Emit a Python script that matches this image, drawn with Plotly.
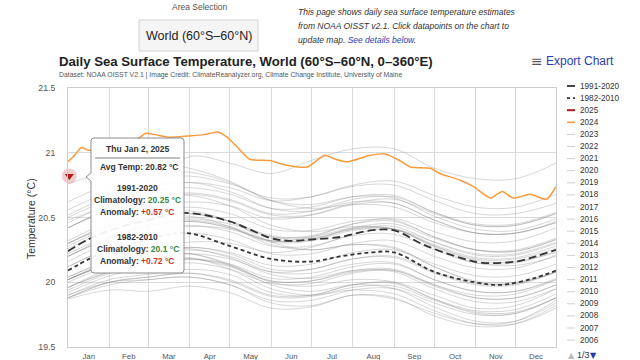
import plotly.graph_objects as go

# ---------------- data ----------------
# x axis = day of year, drawn on a leap-year calendar (2024)
month_dates = ["2024-01-01", "2024-02-01", "2024-03-01", "2024-04-01", "2024-05-01",
               "2024-06-01", "2024-07-01", "2024-08-01", "2024-09-01", "2024-10-01",
               "2024-11-01", "2024-12-01", "2024-12-31"]

sst_1982 = [19.90, 20.02, 20.06, 20.10, 20.06, 19.92, 19.90, 19.98, 20.00, 19.90, 19.80, 19.82, 19.95]
sst_1983 = [20.02, 20.14, 20.20, 20.22, 20.14, 20.00, 19.97, 20.02, 20.00, 19.87, 19.76, 19.76, 19.88]
sst_1984 = [19.90, 20.00, 20.02, 20.04, 19.98, 19.84, 19.82, 19.90, 19.88, 19.74, 19.66, 19.68, 19.82]
sst_1985 = [19.87, 19.94, 19.93, 19.97, 19.92, 19.80, 19.81, 19.90, 19.87, 19.76, 19.68, 19.70, 19.86]
sst_1986 = [19.88, 20.00, 20.04, 20.07, 20.02, 19.90, 19.90, 19.98, 19.99, 19.87, 19.78, 19.79, 19.91]
sst_1987 = [19.96, 20.10, 20.17, 20.22, 20.18, 20.08, 20.10, 20.18, 20.20, 20.08, 19.99, 19.99, 20.08]
sst_1988 = [20.04, 20.16, 20.21, 20.22, 20.13, 19.98, 19.93, 19.98, 19.95, 19.81, 19.70, 19.70, 19.84]
sst_1989 = [19.88, 19.98, 20.02, 20.04, 19.98, 19.86, 19.86, 19.94, 19.95, 19.84, 19.75, 19.76, 19.88]
sst_1990 = [19.96, 20.08, 20.14, 20.18, 20.13, 20.01, 20.01, 20.09, 20.10, 19.98, 19.88, 19.88, 19.98]
sst_1991 = [19.96, 20.08, 20.14, 20.18, 20.14, 20.03, 20.04, 20.12, 20.14, 20.02, 19.93, 19.93, 20.02]
sst_1992 = [20.02, 20.14, 20.18, 20.19, 20.10, 19.95, 19.90, 19.94, 19.91, 19.78, 19.68, 19.68, 19.80]
sst_1993 = [19.88, 20.00, 20.04, 20.07, 20.01, 19.89, 19.89, 19.96, 19.97, 19.86, 19.77, 19.77, 19.88]
sst_1994 = [19.92, 20.05, 20.11, 20.15, 20.10, 19.99, 19.99, 20.07, 20.09, 19.98, 19.90, 19.91, 20.02]
sst_1995 = [20.04, 20.17, 20.24, 20.26, 20.19, 20.06, 20.03, 20.09, 20.08, 19.95, 19.85, 19.85, 19.95]
sst_1996 = [19.94, 20.07, 20.14, 20.18, 20.12, 20.01, 20.01, 20.08, 20.09, 19.97, 19.88, 19.88, 19.98]
sst_1997 = [20.02, 20.16, 20.25, 20.31, 20.30, 20.23, 20.27, 20.37, 20.41, 20.31, 20.22, 20.22, 20.31]
sst_1998 = [20.30, 20.44, 20.52, 20.55, 20.47, 20.31, 20.25, 20.29, 20.26, 20.12, 20.00, 19.99, 20.08]
sst_1999 = [20.02, 20.15, 20.22, 20.25, 20.20, 20.08, 20.07, 20.14, 20.15, 20.02, 19.93, 19.93, 20.03]
sst_2000 = [20.02, 20.15, 20.23, 20.27, 20.22, 20.10, 20.10, 20.18, 20.19, 20.07, 19.98, 19.98, 20.08]
sst_2001 = [20.12, 20.26, 20.34, 20.38, 20.33, 20.22, 20.22, 20.30, 20.32, 20.20, 20.11, 20.11, 20.21]
sst_2002 = [20.20, 20.35, 20.44, 20.48, 20.43, 20.32, 20.33, 20.41, 20.43, 20.31, 20.21, 20.21, 20.30]
sst_2003 = [20.28, 20.42, 20.50, 20.53, 20.47, 20.35, 20.34, 20.41, 20.41, 20.28, 20.18, 20.18, 20.26]
sst_2004 = [20.20, 20.34, 20.43, 20.47, 20.42, 20.31, 20.32, 20.40, 20.41, 20.29, 20.19, 20.19, 20.28]
sst_2005 = [20.26, 20.40, 20.49, 20.53, 20.47, 20.36, 20.35, 20.42, 20.41, 20.28, 20.17, 20.16, 20.23]
sst_2006 = [20.20, 20.34, 20.43, 20.47, 20.42, 20.32, 20.33, 20.42, 20.45, 20.34, 20.25, 20.25, 20.34]
sst_2007 = [20.30, 20.43, 20.50, 20.51, 20.43, 20.29, 20.25, 20.29, 20.27, 20.12, 20.01, 20.00, 20.08]
sst_2008 = [20.00, 20.13, 20.22, 20.27, 20.23, 20.13, 20.14, 20.23, 20.25, 20.14, 20.05, 20.05, 20.14]
sst_2009 = [20.12, 20.27, 20.37, 20.43, 20.41, 20.32, 20.35, 20.45, 20.49, 20.39, 20.31, 20.32, 20.42]
sst_2010 = [20.42, 20.57, 20.65, 20.67, 20.59, 20.44, 20.39, 20.43, 20.41, 20.27, 20.15, 20.13, 20.20]
sst_2011 = [20.16, 20.31, 20.40, 20.44, 20.39, 20.28, 20.28, 20.36, 20.37, 20.25, 20.15, 20.15, 20.24]
sst_2012 = [20.22, 20.36, 20.45, 20.49, 20.45, 20.35, 20.36, 20.45, 20.47, 20.35, 20.25, 20.24, 20.33]
sst_2013 = [20.30, 20.45, 20.54, 20.58, 20.53, 20.41, 20.40, 20.47, 20.48, 20.35, 20.25, 20.24, 20.33]
sst_2014 = [20.32, 20.47, 20.57, 20.62, 20.59, 20.49, 20.52, 20.61, 20.64, 20.53, 20.44, 20.44, 20.53]
sst_2015 = [20.50, 20.64, 20.73, 20.77, 20.73, 20.63, 20.66, 20.75, 20.78, 20.67, 20.58, 20.58, 20.68]
sst_2016 = [20.76, 20.86, 20.92, 20.88, 20.78, 20.63, 20.57, 20.60, 20.58, 20.46, 20.38, 20.38, 20.46]
sst_2017 = [20.52, 20.66, 20.74, 20.77, 20.70, 20.57, 20.55, 20.62, 20.61, 20.48, 20.38, 20.38, 20.46]
sst_2018 = [20.42, 20.56, 20.65, 20.69, 20.64, 20.53, 20.55, 20.64, 20.66, 20.54, 20.45, 20.45, 20.54]
sst_2019 = [20.56, 20.70, 20.79, 20.82, 20.76, 20.65, 20.66, 20.74, 20.75, 20.63, 20.53, 20.53, 20.61]
sst_2020 = [20.62, 20.76, 20.84, 20.85, 20.77, 20.63, 20.60, 20.66, 20.65, 20.51, 20.41, 20.40, 20.49]
sst_2021 = [20.42, 20.56, 20.65, 20.68, 20.63, 20.52, 20.52, 20.60, 20.61, 20.48, 20.38, 20.38, 20.47]
sst_2022 = [20.46, 20.60, 20.69, 20.73, 20.68, 20.57, 20.58, 20.66, 20.67, 20.54, 20.44, 20.44, 20.53]
sst_2023 = [20.48, 20.60, 20.74, 20.97, 20.92, 20.84, 20.94, 21.03, 21.03, 20.88, 20.80, 20.80, 20.92]

gray_years = [1982, 1983, 1984, 1985, 1986, 1987, 1988, 1989, 1990, 1991, 1992, 1993,
              1994, 1995, 1996, 1997, 1998, 1999, 2000, 2001, 2002, 2003, 2004, 2005,
              2006, 2007, 2008, 2009, 2010, 2011, 2012, 2013, 2014, 2015, 2016, 2017,
              2018, 2019, 2020, 2021, 2022, 2023]
gray_values = [sst_1982, sst_1983, sst_1984, sst_1985, sst_1986, sst_1987, sst_1988, sst_1989,
               sst_1990, sst_1991, sst_1992, sst_1993, sst_1994, sst_1995, sst_1996, sst_1997,
               sst_1998, sst_1999, sst_2000, sst_2001, sst_2002, sst_2003, sst_2004, sst_2005,
               sst_2006, sst_2007, sst_2008, sst_2009, sst_2010, sst_2011, sst_2012, sst_2013,
               sst_2014, sst_2015, sst_2016, sst_2017, sst_2018, sst_2019, sst_2020, sst_2021,
               sst_2022, sst_2023]

dates_2024 = ["2024-01-01", "2024-01-06", "2024-01-11", "2024-01-16", "2024-01-25", "2024-02-09",
              "2024-02-24", "2024-02-28", "2024-03-06", "2024-03-17", "2024-03-31", "2024-04-12",
              "2024-04-22", "2024-04-29", "2024-05-06", "2024-05-16", "2024-05-31", "2024-06-10",
              "2024-06-28", "2024-07-11", "2024-07-19", "2024-07-28", "2024-08-14", "2024-08-25",
              "2024-09-05", "2024-09-13", "2024-09-28", "2024-10-05", "2024-10-20", "2024-10-30",
              "2024-11-12", "2024-11-17", "2024-11-21", "2024-11-29", "2024-12-12", "2024-12-24",
              "2024-12-31"]
sst_2024 = [20.93, 20.98, 21.04, 21.02, 21.02, 21.06,
            21.12, 21.15, 21.14, 21.12, 21.13, 21.14,
            21.16, 21.12, 21.05, 20.95, 20.94, 20.91,
            20.89, 20.98, 20.95, 20.93, 20.98, 20.99,
            20.94, 20.89, 20.88, 20.84, 20.79, 20.74,
            20.65, 20.68, 20.70, 20.65, 20.68, 20.64,
            20.74]

dates_2025 = ["2024-01-02"]   # Jan 2, 2025 on the day-of-year axis
sst_2025 = [20.82]

clim_dates_9120 = ["2024-01-01", "2024-01-16", "2024-02-01", "2024-03-01", "2024-03-29", "2024-05-01",
                   "2024-06-01", "2024-06-15", "2024-07-01", "2024-07-23", "2024-08-14", "2024-09-01",
                   "2024-09-23", "2024-10-20", "2024-11-06", "2024-12-01", "2024-12-16", "2024-12-31"]
clim_9120 = [20.24, 20.33, 20.40, 20.48, 20.535, 20.47,
             20.34, 20.32, 20.33, 20.35, 20.40, 20.40,
             20.29, 20.19, 20.15, 20.16, 20.20, 20.25]

clim_dates_8210 = ["2024-01-01", "2024-01-17", "2024-02-01", "2024-03-01", "2024-03-29", "2024-05-01",
                   "2024-06-01", "2024-07-01", "2024-07-23", "2024-08-14", "2024-09-01", "2024-10-01",
                   "2024-10-31", "2024-11-20", "2024-12-14", "2024-12-31"]
clim_8210 = [20.09, 20.18, 20.24, 20.33, 20.38, 20.28,
             20.18, 20.16, 20.20, 20.23, 20.23, 20.08,
             20.00, 19.98, 20.03, 20.09]

y_tickvals = [19.5, 20, 20.5, 21, 21.5]
y_ticktext = ["19.5", "20", "20.5", "21", "21.5"]

legend_labels = ["1991-2020", "1982-2010", "2025", "2024", "2023", "2022", "2021", "2020", "2019",
                 "2018", "2017", "2016", "2015", "2014", "2013", "2012", "2011", "2010", "2009",
                 "2008", "2007", "2006"]

# ---------------- layout helpers ----------------
W, H = 640, 360
ML, MR, MT, MB = 68, 84, 88, 13
PW, PH = W - ML - MR, H - MT - MB
FONT = "Liberation Sans, Arial, Helvetica, sans-serif"

def px(x):
    return (x - ML) / PW

def py(y):
    return (H - MB - y) / PH

ORANGE = "#f89b3c"
DARK = "#333333"
RED25 = "#b01c1c"
GRAY = "rgba(135,135,135,0.33)"

fig = go.Figure()

for yr, vals in zip(gray_years, gray_values):
    fig.add_trace(go.Scatter(x=month_dates, y=vals, mode="lines", name=str(yr),
                             line=dict(color=GRAY, width=1, shape="spline", smoothing=1.0),
                             showlegend=False, hoverinfo="skip"))

fig.add_trace(go.Scatter(x=clim_dates_8210, y=clim_8210, mode="lines", name="1982-2010",
                         line=dict(color=DARK, width=1.8, dash="4px,3px", shape="spline"),
                         showlegend=False))
fig.add_trace(go.Scatter(x=clim_dates_9120, y=clim_9120, mode="lines", name="1991-2020",
                         line=dict(color=DARK, width=1.8, dash="8px,4px", shape="spline"),
                         showlegend=False))
fig.add_trace(go.Scatter(x=dates_2024, y=sst_2024, mode="lines", name="2024",
                         line=dict(color=ORANGE, width=1.5, shape="spline", smoothing=0.6),
                         showlegend=False))
# hover halo + marker for 2025
fig.add_trace(go.Scatter(x=dates_2025, y=sst_2025, mode="markers", showlegend=False, cliponaxis=False,
                         marker=dict(size=15, color="rgba(200,80,80,0.28)"), hoverinfo="skip"))
fig.add_trace(go.Scatter(x=dates_2025, y=sst_2025, mode="markers", name="2025", cliponaxis=False,
                         marker=dict(size=8, symbol="triangle-down", color=RED25),
                         showlegend=False))

ann = []
shapes = []

def text(x, y, s, size, color="#333", xanchor="left", yanchor="middle", family=FONT, **kw):
    ann.append(dict(x=px(x), y=py(y), xref="paper", yref="paper", text=s, showarrow=False,
                    xanchor=xanchor, yanchor=yanchor,
                    font=dict(family=family, size=size, color=color), **kw))

# header
text(200, 7, "Area Selection", 8.5, "#555", xanchor="center")
shapes.append(dict(type="rect", xref="paper", yref="paper", x0=px(139), x1=px(258), y0=py(51), y1=py(20),
                   fillcolor="#f5f5f5", line=dict(color="#d2d2d2", width=1), layer="above"))
text(198.5, 36, "World (60°S–60°N)", 12.5, "#222", xanchor="center")
text(296, 12, "<i>This page shows daily sea surface temperature estimates</i>", 8.5, "#333")
text(296, 26, "<i>from NOAA OISST v2.1. Click datapoints on the chart to</i>", 8.5, "#333")
text(296, 40, "<i>update map. <span style='color:#2a3db0'>See details below</span>.</i>", 8.5, "#333")

text(57, 61, "<b>Daily Sea Surface Temperature, World (60°S–60°N, 0–360°E)</b>", 13.2, "#222")
text(57, 75, "Dataset: NOAA OISST V2.1 | Image Credit: ClimateReanalyzer.org, Climate Change Institute, University of Maine",
     6.85, "#555")
text(529, 61, "≡", 14, "#555", family="DejaVu Sans")
text(544, 61, "Export Chart", 12, "#2a3db0")

# y-axis title
ann.append(dict(x=px(31), y=py(219), xref="paper", yref="paper", text="Temperature (°C)",
                showarrow=False, textangle=-90, xanchor="center", yanchor="middle",
                font=dict(family=FONT, size=10.5, color="#333")))

# custom legend
for i, lab in enumerate(legend_labels):
    yy = 86 + i * 12.1
    if lab == "1991-2020":
        ln = dict(color=DARK, width=1.8)
    elif lab == "1982-2010":
        ln = dict(color=DARK, width=1.8, dash="3px,3px")
    elif lab == "2025":
        ln = dict(color=RED25, width=2)
    elif lab == "2024":
        ln = dict(color=ORANGE, width=1.5)
    else:
        ln = dict(color="#d0d0d0", width=1)
    shapes.append(dict(type="line", xref="paper", yref="paper", x0=px(567), x1=px(575),
                       y0=py(yy), y1=py(yy), line=ln))
    text(578, yy, lab, 8.2, "#333")
text(566, 355, "<span style='color:#bbbbbb'>▲</span>", 8, "#bbb", family="DejaVu Sans")
text(575, 355, "1/3", 9, "#333")
text(588, 355, "<span style='color:#1c3aa8'>▼</span>", 8, "#1c3aa8", family="DejaVu Sans")

# tooltip
bx0, bx1, by0, by1, r = 91, 184, 138, 273, 3
path = (f"M {px(bx0 + r)} {py(by0)} L {px(bx1 - r)} {py(by0)} "
        f"Q {px(bx1)} {py(by0)} {px(bx1)} {py(by0 + r)} L {px(bx1)} {py(by1 - r)} "
        f"Q {px(bx1)} {py(by1)} {px(bx1 - r)} {py(by1)} L {px(bx0 + r)} {py(by1)} "
        f"Q {px(bx0)} {py(by1)} {px(bx0)} {py(by1 - r)} L {px(bx0)} {py(181)} "
        f"L {px(86)} {py(177)} L {px(bx0)} {py(173)} L {px(bx0)} {py(by0 + r)} "
        f"Q {px(bx0)} {py(by0)} {px(bx0 + r)} {py(by0)} Z")
shapes.append(dict(type="path", xref="paper", yref="paper", path=path,
                   fillcolor="rgba(255,255,255,0.93)", line=dict(color="#8c8c8c", width=1), layer="above"))
shapes.append(dict(type="line", xref="paper", yref="paper", x0=px(95), x1=px(180), y0=py(158), y1=py(158),
                   line=dict(color="#aaaaaa", width=1.5), layer="above"))
GREEN = "#3b8a3b"
RED = "#c0392b"
cx = 137.5
text(cx, 149, "<b>Thu Jan 2, 2025</b>", 8.5, "#333", xanchor="center")
text(cx + 2, 167, "<b>Avg Temp: 20.82 °C</b>", 8.5, "#333", xanchor="center")
text(cx, 188, "<b>1991-2020</b>", 8.5, "#333", xanchor="center")
text(cx, 200, f"<b>Climatology: <span style='color:{GREEN}'>20.25 °C</span></b>", 8.5, "#333", xanchor="center")
text(cx, 212, f"<b>Anomaly: <span style='color:{RED}'>+0.57 °C</span></b>", 8.5, "#333", xanchor="center")
text(cx, 237, "<b>1982-2010</b>", 8.5, "#333", xanchor="center")
text(cx, 249, f"<b>Climatology: <span style='color:{GREEN}'>20.1 °C</span></b>", 8.5, "#333", xanchor="center")
text(cx, 261, f"<b>Anomaly: <span style='color:{RED}'>+0.72 °C</span></b>", 8.5, "#333", xanchor="center")

fig.update_layout(
    width=W, height=H,
    margin=dict(l=ML, r=MR, t=MT, b=MB, autoexpand=False),
    paper_bgcolor="white", plot_bgcolor="white",
    showlegend=False, hovermode=False,
    font=dict(family=FONT, color="#555"),
    annotations=ann, shapes=shapes,
    xaxis=dict(type="date", range=["2024-01-01", "2024-12-31"], dtick="M1", tick0="2024-01-01",
               tickformat="%b", ticklabelmode="period", showgrid=True, gridcolor="#dadada", gridwidth=1,
               showline=True, linecolor="#cccccc", mirror=True, ticks="", zeroline=False,
               tickfont=dict(family=FONT, size=7.8, color="#555"), ticklabelstandoff=2, automargin=False),
    yaxis=dict(range=[19.5, 21.5], tickvals=y_tickvals, ticktext=y_ticktext, showgrid=True,
               gridcolor="#dadada", gridwidth=1, showline=True, linecolor="#cccccc", mirror=True,
               ticks="", zeroline=False, tickfont=dict(family=FONT, size=8.7, color="#555"),
               ticklabelstandoff=10, automargin=False),
)

fig.write_html("out.html", config={"displayModeBar": False},
               post_script="document.body.style.margin='0';document.body.style.overflow='hidden';")
